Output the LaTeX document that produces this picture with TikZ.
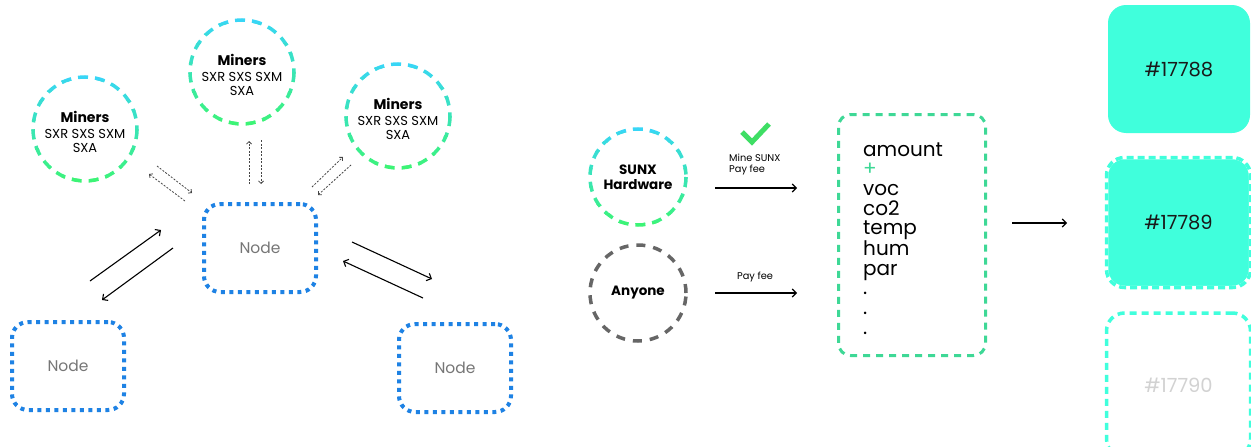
\documentclass[tikz,border=0pt]{standalone}
\usepackage{fontspec}
\setmainfont{Poppins}
\usetikzlibrary{arrows.meta,calc}
\definecolor{ringcyan}{RGB}{56,214,246}
\definecolor{ringgreen}{RGB}{60,244,118}
\definecolor{nodeblue}{RGB}{30,130,228}
\definecolor{boxgreen}{RGB}{62,216,150}
\definecolor{tokteal}{RGB}{64,255,220}
\definecolor{anyonegray}{RGB}{102,102,102}
\definecolor{labelgray}{RGB}{118,118,118}
\definecolor{faintgray}{RGB}{210,210,210}
\definecolor{minigray}{RGB}{70,70,70}
\definecolor{checkgreen}{RGB}{62,222,100}
\tikzset{
  ring/.style={line width=3.5pt, dash pattern=on 10pt off 7pt},
  nodebox/.style={draw=nodeblue, line width=4pt, dash pattern=on 4pt off 4.5pt,
    rounded corners=16pt, minimum width=112pt, minimum height=88pt,
    font=\fontsize{15.5}{18}\selectfont, text=labelgray},
  minerlabel/.style={circle, inner sep=0pt, minimum size=100pt, align=center,
    font=\fontsize{13}{14}\selectfont},
  link/.style={line width=1.1pt, -{Straight Barb[length=4pt,width=8pt]}},
  minilink/.style={line width=0.8pt, draw=minigray, dash pattern=on 2pt off 1.5pt,
    -{Straight Barb[length=2.5pt,width=5pt]}},
  tokbox/.style={rounded corners=18pt, minimum width=144pt, minimum height=130pt,
    font=\fontsize{19.5}{21}\selectfont},
}
\newcommand{\gradring}[3]{%
  \foreach \k in {0,...,11}{%
    \pgfmathtruncatemacro{\mix}{100-\k*100/11}%
    \begin{scope}
      \clip ({#1-#3-6},{#2-#3-6+\k*(2*#3+12)/12}) rectangle ({#1+#3+6},{#2-#3-5+(\k+1)*(2*#3+12)/12});
      \draw[ring, draw=ringcyan!\mix!ringgreen] (#1,#2) circle[radius=#3];
    \end{scope}
  }%
}
\begin{document}
\begin{tikzpicture}[x=1pt,y=-1pt]
\useasboundingbox (0,0) rectangle (1251,447);
\clip (0,0) rectangle (1251,447);
\fill[white] (0,0) rectangle (1251,447);

% ---------- miners ----------
\gradring{85}{129}{52}
\gradring{242}{72}{52}
\gradring{398}{116}{52}
\node[minerlabel] (minerL) at (85,132) {{\fontsize{14}{16}\selectfont\bfseries Miners}\\[2pt]SXR SXS SXM\\SXA};
\node[minerlabel] (minerT) at (242,75) {{\fontsize{14}{16}\selectfont\bfseries Miners}\\[2pt]SXR SXS SXM\\SXA};
\node[minerlabel] (minerR) at (398,119) {{\fontsize{14}{16}\selectfont\bfseries Miners}\\[2pt]SXR SXS SXM\\SXA};

% ---------- nodes ----------
\node[nodebox] (nodeC) at (260,248) {Node};
\node[nodebox] (nodeL) at (68,366) {Node};
\node[nodebox] (nodeR) at (455,368) {Node};

% solid links
\coordinate (l1s) at (90,281);  \coordinate (l1e) at (161,230);
\coordinate (l2s) at (173,248); \coordinate (l2e) at (102,300);
\coordinate (r1s) at (352,242); \coordinate (r1e) at (432,279);
\coordinate (r2s) at (423,298); \coordinate (r2e) at (343,261);
\draw[link] (l1s) -- (l1e);
\draw[link] (l2s) -- (l2e);
\draw[link] (r1s) -- (r1e);
\draw[link] (r2s) -- (r2e);

% dashed mini links
\coordinate (m1s) at (157,166); \coordinate (m1e) at (192,193);
\coordinate (m2s) at (185,201); \coordinate (m2e) at (149,174);
\coordinate (m3s) at (249,184); \coordinate (m3e) at (249,141);
\coordinate (m4s) at (261,140); \coordinate (m4e) at (261,184);
\coordinate (m5s) at (312,187); \coordinate (m5e) at (343,157);
\coordinate (m6s) at (351,165); \coordinate (m6e) at (318,195);
\draw[minilink] (m1s) -- (m1e);
\draw[minilink] (m2s) -- (m2e);
\draw[minilink] (m3s) -- (m3e);
\draw[minilink] (m4s) -- (m4e);
\draw[minilink] (m5s) -- (m5e);
\draw[minilink] (m6s) -- (m6e);

% ---------- sources ----------
\gradring{638}{177}{48}
\node[circle, inner sep=0pt, minimum size=96pt, align=center,
  font=\fontsize{13.5}{15}\selectfont\bfseries] (sunx) at (638,177) {SUNX\\Hardware};
\node[circle, inner sep=0pt, minimum size=96pt, draw=anyonegray, line width=3.5pt,
  dash pattern=on 9pt off 8pt, font=\fontsize{13.5}{15}\selectfont\bfseries] (anyone) at (638,293) {Anyone};

\draw[checkgreen, line width=5pt] (742,132) -- (752,142) -- (769,124);
\node[anchor=north west, inner sep=0pt, align=left, font=\fontsize{9.8}{10.5}\selectfont] (minelbl) at (729,154) {Mine SUNX\\Pay fee};
\node[inner sep=0pt, font=\fontsize{9.8}{10.5}\selectfont] (paylbl) at (755,277) {Pay fee};

\coordinate (s1s) at (715,188); \coordinate (s1e) at (797,188);
\coordinate (s2s) at (715,293); \coordinate (s2e) at (797,293);
\draw[link] (s1s) -- (s1e);
\draw[link] (s2s) -- (s2e);

% ---------- data box ----------
\node[draw=boxgreen, line width=3pt, dash pattern=on 7pt off 6pt, rounded corners=12pt,
  minimum width=147pt, minimum height=241pt] (data) at (912,235) {};
\node[anchor=base west, inner sep=0pt, align=left, font=\fontsize{20}{19.6}\selectfont] (datatext) at (863,334)
  {amount\\{\color{boxgreen}+}\\voc\\co2\\temp\\hum\\par\\.\\.\\.};

\coordinate (d1s) at (1012,223); \coordinate (d1e) at (1067,223);
\draw[link] (d1s) -- (d1e);

% ---------- token boxes ----------
\node[tokbox, fill=tokteal, minimum width=142pt, minimum height=128pt] (t1) at (1179,69) {\color{black!90}\#17788};
\node[tokbox, fill=tokteal, draw=white, line width=3.5pt,
  postaction={draw=tokteal, dash pattern=on 7pt off 4pt},
  minimum height=130pt] (t2) at (1178.5,222.5) {\color{black!90}\#17789};
\node[tokbox, draw=tokteal, line width=3.5pt, dash pattern=on 7pt off 5pt,
  minimum height=144pt] (t3) at (1178.5,385) {\color{faintgray}\#17790};
\end{tikzpicture}
\end{document}
